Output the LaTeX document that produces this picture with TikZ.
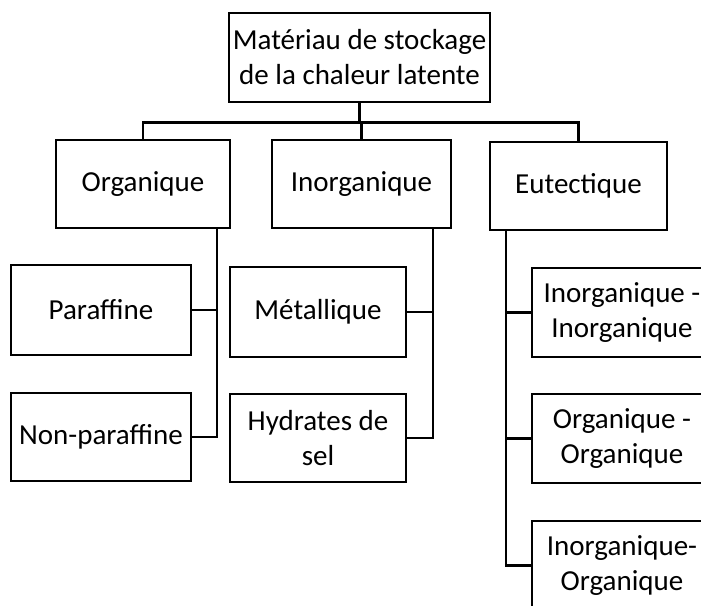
\documentclass[tikz,border=0pt]{standalone}
\usepackage{fontspec}
\setmainfont{Carlito}
\begin{document}
\begin{tikzpicture}[x=1pt,y=-1pt,
  box/.style={draw,line width=1.6pt,inner sep=0pt,align=center,
    font=\fontsize{29}{35}\selectfont},
  conn/.style={line width=2.3pt}]
\useasboundingbox (0,0) rectangle (701,605);
\clip (0,0) rectangle (701,605);
\fill[white] (0,0) rectangle (701,605);
% nodes
\node[box,minimum width=261pt,minimum height=89pt] (top) at (359.5,57.5) {Matériau de stockage\\de la chaleur latente};
\node[box,minimum width=174pt,minimum height=88pt] (org) at (143,184) {Organique};
\node[box,minimum width=179pt,minimum height=88pt] (inorg) at (361.5,184) {Inorganique};
\node[box,minimum width=177pt,minimum height=88pt] (eu) at (578.5,186) {Eutectique};
\node[box,minimum width=180pt,minimum height=90pt] (par) at (101,310) {Paraffine};
\node[box,minimum width=180pt,minimum height=88pt] (npar) at (101,437) {Non-paraffine};
\node[box,minimum width=176pt,minimum height=90pt] (met) at (318,312) {Métallique};
\node[box,minimum width=176pt,minimum height=88pt] (hyd) at (318,438) {Hydrates de\\sel};
\node[box,minimum width=180pt,minimum height=89pt] (euA) at (622,312.5) {Inorganique -\\Inorganique};
\node[box,minimum width=180pt,minimum height=89pt] (euB) at (622,438.5) {Organique -\\Organique};
\node[box,minimum width=180pt,minimum height=89pt] (euC) at (622,565.5) {Inorganique-\\Organique};
% helper coordinates
\coordinate (bar) at (0,122.5);
\coordinate (otr) at (217,0);
\coordinate (itr) at (433,0);
\coordinate (etr) at (506,0);
% connectors
\draw[conn] (top.south) -- (top.south |- bar);
\draw[conn] (org.north) |- (eu.north |- bar) -- (eu.north);
\draw[conn] (inorg.north) -- (inorg.north |- bar);
\draw[conn] (org.south -| otr) |- (npar.east);
\draw[conn] (par.east) -- (par.east -| otr);
\draw[conn] (inorg.south -| itr) |- (hyd.east);
\draw[conn] (met.east) -- (met.east -| itr);
\draw[conn] (eu.south -| etr) |- (euC.west);
\draw[conn] (euA.west) -- (euA.west -| etr);
\draw[conn] (euB.west) -- (euB.west -| etr);
\end{tikzpicture}
\end{document}
